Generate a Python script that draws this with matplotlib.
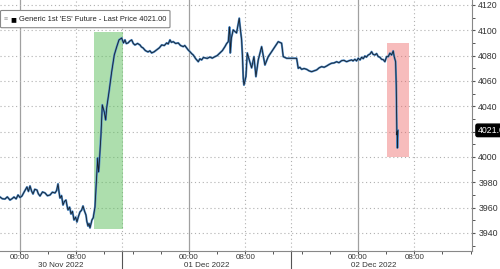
import matplotlib
matplotlib.use("Agg")
import matplotlib.pyplot as plt
from matplotlib.lines import Line2D
from matplotlib.patches import FancyBboxPatch
import matplotlib.transforms as mtransforms

plt.rcParams["font.family"] = ["Liberation Sans", "DejaVu Sans"]

# hours since 30 Nov 2022 00:00
hours = [-2.84, -2.5, -2.13, -1.8, -1.42, -1.1, -0.85, -0.55, -0.28, 0.0, 0.28, 0.6, 0.99, 1.2,
         1.42, 1.65, 1.85, 2.1, 2.41, 2.6, 2.84, 3.2, 3.55, 3.9, 4.26, 4.6, 4.97, 5.2, 5.40,
         5.55, 5.68, 5.9, 6.11, 6.3, 6.53, 6.7, 6.82, 7.05, 7.24, 7.45, 7.67, 7.9, 8.09, 8.3,
         8.52, 8.75, 8.95, 9.15, 9.37, 9.5, 9.66, 9.8, 9.94, 10.1, 10.22, 10.4, 10.51, 10.65,
         10.89, 11.03, 11.15, 11.22, 11.50, 11.69, 11.97, 12.17, 12.31, 12.64, 13.02, 13.39,
         13.73, 14.06, 14.44, 14.70, 14.91, 15.1, 15.34, 15.6, 15.86, 16.1, 16.33, 16.7, 17.04,
         17.25, 17.47, 17.8, 18.18, 18.45, 18.70, 19.05, 19.41, 19.8, 20.12, 20.5, 20.83, 21.05,
         21.30, 21.5, 21.77, 22.1, 22.48, 22.8, 23.19, 23.4, 23.67, 23.9, 24.14, 24.4, 24.61,
         24.95, 25.32, 25.55, 25.80, 26.05, 26.27, 26.6, 26.98, 27.3, 27.69, 28.0, 28.40, 28.75,
         29.11, 29.35, 29.58, 29.75, 29.82, 29.86, 30.03, 30.28, 30.76, 31.14, 31.31, 31.48,
         31.62, 31.71, 31.81, 32.09, 32.28, 32.56, 32.90, 33.23, 33.51, 33.84, 34.32, 34.79,
         35.26, 35.74, 36.21, 36.68, 37.16, 37.39, 37.87, 38.58, 39.29, 39.52, 39.75, 40.00,
         40.35, 40.71, 41.05, 41.42, 41.8, 42.13, 42.5, 42.84, 43.2, 43.55, 43.9, 44.26, 44.6,
         44.97, 45.3, 45.68, 46.0, 46.39, 46.75, 47.10, 47.3, 47.57, 47.8, 48.04, 48.3, 48.52,
         48.75, 48.99, 49.2, 49.46, 49.7, 49.94, 50.15, 50.41, 50.65, 50.88, 51.1, 51.36, 51.6,
         51.83, 52.07, 52.30, 52.54, 52.78, 53.01, 53.15, 53.35, 53.44, 53.49, 53.53, 53.58,
         53.60, 53.63, 53.68]
price = [3968.4, 3967.0, 3966.8, 3968.5, 3966.0, 3967.2, 3968.4, 3966.9, 3970.0, 3968.0, 3969.2,
         3972.5, 3976.3, 3972.8, 3977.1, 3973.0, 3970.8, 3974.5, 3973.9, 3971.0, 3969.2, 3972.4,
         3971.6, 3969.4, 3970.0, 3972.2, 3971.6, 3973.5, 3978.7, 3972.0, 3967.6, 3969.5, 3962.1,
         3964.8, 3966.0, 3961.0, 3958.2, 3960.4, 3955.0, 3957.1, 3950.3, 3952.5, 3948.7, 3953.0,
         3956.6, 3958.0, 3961.3, 3957.5, 3954.2, 3949.0, 3945.5, 3947.5, 3944.0, 3947.8, 3950.3,
         3952.0, 3955.8, 3960.5, 3985.8, 3999.2, 3988.2, 3991.3, 4017.4, 4041.1, 4035.5, 4029.2,
         4038.7, 4051.3, 4067.1, 4080.5, 4086.8, 4092.4, 4093.9, 4090.0, 4092.4, 4089.5, 4090.0,
         4091.5, 4092.4, 4089.5, 4088.4, 4089.6, 4088.4, 4086.8, 4086.1, 4084.0, 4082.9, 4083.8,
         4082.1, 4083.0, 4084.5, 4086.2, 4088.4, 4088.0, 4090.0, 4089.2, 4092.4, 4090.5, 4091.0,
         4089.6, 4090.0, 4088.0, 4087.1, 4088.0, 4086.1, 4084.4, 4083.1, 4081.5, 4080.5, 4077.6,
         4075.2, 4077.5, 4076.6, 4078.5, 4078.2, 4077.8, 4078.9, 4078.0, 4079.2, 4080.0, 4082.1,
         4084.0, 4087.1, 4089.5, 4091.0, 4102.6, 4096.3, 4082.1, 4094.0, 4100.3, 4097.9, 4109.5,
         4100.3, 4092.4, 4076.6, 4062.0, 4056.8, 4063.4, 4082.1, 4076.6, 4070.3, 4079.2, 4063.4,
         4076.6, 4087.1, 4072.6, 4079.2, 4083.1, 4087.1, 4091.0, 4089.8, 4079.2, 4077.9, 4077.9,
         4077.9, 4070.0, 4070.8, 4069.2, 4069.8, 4069.2, 4068.0, 4067.3, 4068.0, 4068.7, 4070.4,
         4071.3, 4070.8, 4071.8, 4073.0, 4074.0, 4074.2, 4075.2, 4074.4, 4076.0, 4076.3, 4075.2,
         4076.0, 4076.6, 4075.8, 4077.1, 4075.8, 4077.9, 4076.6, 4078.7, 4077.6, 4079.7, 4078.8,
         4080.5, 4081.2, 4083.1, 4081.0, 4080.5, 4081.6, 4079.2, 4078.8, 4077.1, 4076.8, 4075.2,
         4079.2, 4079.2, 4081.9, 4080.5, 4083.7, 4079.2, 4075.2, 4056.8, 4030.8, 4017.4, 4020.0,
         4007.1, 4015.0, 4021.0]

major_ticks = [0, 8, 24, 32, 48, 56]
major_labels = ["00:00", "08:00", "00:00", "08:00", "00:00", "08:00"]
minor_ticks = [4, 12, 16, 20, 28, 36, 40, 44, 52, 60, 64]
solid_grid = [0, 24, 48]
dotted_grid = [8, 14.5, 32, 38.5, 56]
separators = [14.5, 38.5]
date_labels = ["30 Nov 2022", "01 Dec 2022", "02 Dec 2022"]
date_pos = [5.8, 26.5, 50.3]
yticks = [3940, 3960, 3980, 4000, 4020, 4040, 4060, 4080, 4100, 4120]
green_box = (10.5, 14.6, 3943, 4099)
red_box = (52.1, 55.2, 4000, 4090)
last_price = 4021.00
legend_text = "Generic 1st 'ES' Future - Last Price 4021.00"

fig = plt.figure(figsize=(5.0, 2.69), dpi=100)
ax = fig.add_axes([0.0, 0.067, 0.944, 0.933])
ax.set_xlim(-2.84, 64.2)
ax.set_ylim(3925.8, 4123.9)

for v in solid_grid:
    ax.axvline(v, color="#a0a0a0", lw=0.9, zorder=1)
for v in dotted_grid:
    ax.axvline(v, color="#b0b0b0", lw=0.8, ls=(0, (1, 2.5)), zorder=1)
for v in yticks:
    ax.axhline(v, color="#b0b0b0", lw=0.8, ls=(0, (1, 2.5)), zorder=1)

ax.fill_between([green_box[0], green_box[1]], green_box[2], green_box[3],
                color="#5cbf5c", alpha=0.5, lw=0, zorder=2)
ax.fill_between([red_box[0], red_box[1]], red_box[2], red_box[3],
                color="#ee6b6b", alpha=0.45, lw=0, zorder=2)

ax.plot(hours, price, color="#4f8cc9", lw=1.5, zorder=3)
ax.plot(hours, price, color="#16202c", lw=0.6, zorder=4)

ax.yaxis.tick_right()
ax.set_yticks(yticks)
ax.set_yticks([3930 + 20 * i for i in range(10)], minor=True)
# the 4020 label is hidden behind the last-price tag in the reference
ax.set_yticklabels(["" if v == 4020 else str(v) for v in yticks])
ax.set_xticks(major_ticks)
ax.set_xticklabels(major_labels)
ax.set_xticks(minor_ticks, minor=True)
ax.tick_params(axis="both", which="major", labelsize=6.3, length=2.5, width=0.8,
               color="#555555", labelcolor="#333333", pad=2.0)
ax.tick_params(axis="x", which="major", pad=0.0, length=2, labelsize=5.8)
ax.tick_params(axis="both", which="minor", length=2, width=0.7, color="#555555")

for s in ["top", "left"]:
    ax.spines[s].set_visible(False)
for s in ["right", "bottom"]:
    ax.spines[s].set_color("#888888")
    ax.spines[s].set_linewidth(0.8)

trans = mtransforms.blended_transform_factory(ax.transData, fig.transFigure)
for sx in separators:
    ax.add_line(Line2D([sx, sx], [0.067, 0.0], transform=trans, color="#555555",
                       lw=0.8, clip_on=False))
for lbl, pos in zip(date_labels, date_pos):
    ax.text(pos, 0.0, lbl, transform=trans, ha="center", va="bottom",
            fontsize=5.8, color="#333333")

# last price tag
ax.text(1.012, last_price, f"{last_price:.2f}",
        transform=mtransforms.blended_transform_factory(ax.transAxes, ax.transData),
        ha="left", va="center", fontsize=6.3, color="white",
        bbox=dict(boxstyle="round,pad=0.2", fc="black", ec="black"), clip_on=False,
        zorder=10)

# legend box
box = FancyBboxPatch((0.004, 0.9), 0.333, 0.058, boxstyle="round,pad=0.003",
                     transform=fig.transFigure, fc="white", ec="#888888", lw=0.8, zorder=10)
fig.patches.append(box)
fig.text(0.008, 0.929, "≡", fontsize=5, color="#999999", va="center", ha="left", zorder=11)
fig.text(0.021, 0.929, "■", fontsize=7, color="black", va="center", ha="left", zorder=11)
fig.text(0.038, 0.929, legend_text, fontsize=5.4, color="#222222", va="center", ha="left",
         zorder=11)

fig.savefig("out.png", dpi=100)
